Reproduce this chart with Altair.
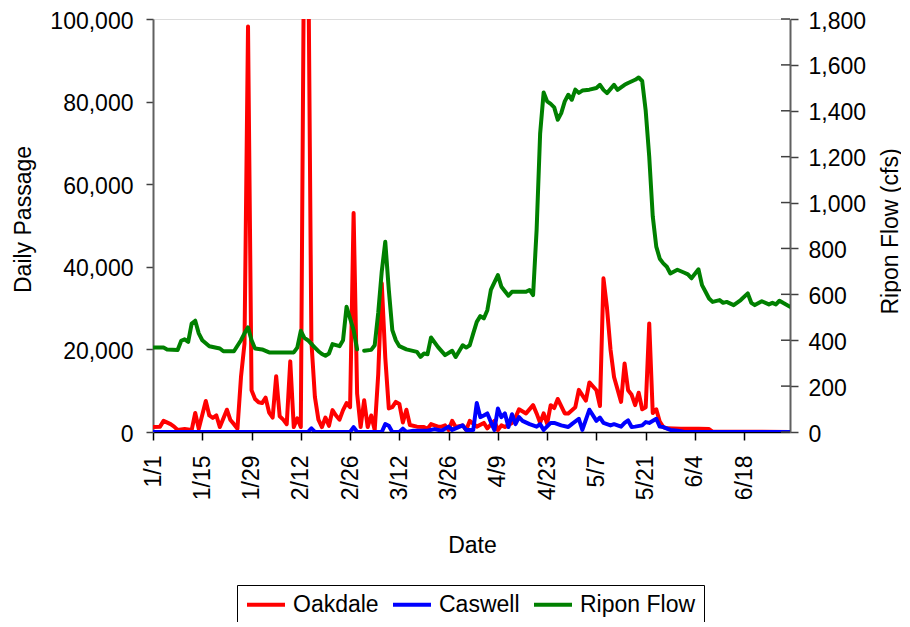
import altair as alt
import pandas as pd

series_names = ["Oakdale", "Caswell", "Ripon Flow"]
series_colors = ["#FF0000", "#0000FF", "#008000"]

tick_days = [0, 14, 28, 42, 56, 70, 84, 98, 112, 126, 140, 154, 168]
tick_labels = ["1/1", "1/15", "1/29", "2/12", "2/26", "3/12", "3/26",
               "4/9", "4/23", "5/7", "5/21", "6/4", "6/18"]
left_ticks = [0, 20000, 40000, 60000, 80000, 100000]
right_ticks = [0, 200, 400, 600, 800, 1000, 1200, 1400, 1600, 1800]

# Oakdale daily passage (day offset from 1/1)
oak_days = [0, 2, 3, 5, 6, 7, 9, 11, 12, 13, 15, 16, 17, 18, 19, 21, 22, 23, 24, 25,
            26, 27, 28, 29, 30, 31, 32, 33, 34, 35, 36, 37, 38, 39, 40, 41, 42, 43, 44, 45,
            46, 47, 48, 49, 50, 51, 52, 53, 54, 55, 56, 57, 58, 59, 60, 61, 62, 63, 64, 65,
            66, 67, 68, 69, 70, 71, 72, 73, 75, 77, 78, 79, 81, 82, 83, 84, 85, 86, 88, 89,
            90, 91, 92, 94, 95, 97, 98, 99, 100, 102, 103, 104, 106, 108, 109, 110, 111, 112, 113, 114,
            115, 117, 118, 120, 121, 123, 124, 126, 127, 128, 129, 130, 131, 133, 134, 135, 136, 137, 138, 139,
            140, 141, 142, 143, 144, 145, 146, 150, 155, 158, 159, 181]
oak_vals = [1200, 1300, 2700, 1900, 1300, 500, 700, 500, 4600, 800, 7500, 4000, 3400, 4000, 1200, 5400, 2900, 1900, 800, 13300,
            21400, 98200, 10100, 8000, 7200, 7000, 8300, 4700, 3500, 13500, 3800, 3000, 1900, 17100, 1200, 3300, 1200, 130000, 130000, 22000,
            8500, 3000, 1200, 3500, 1500, 5300, 4000, 3000, 5300, 7000, 6000, 53000, 9300, 1200, 7700, 1200, 4000, 500, 14000, 36000,
            18000, 5700, 6000, 7300, 6800, 2300, 5400, 1700, 1300, 1200, 800, 1900, 1300, 1300, 1600, 500, 2700, 1200, 1600, 500,
            2700, 2000, 1300, 2200, 900, 2700, 500, 1600, 1200, 2200, 3500, 5500, 4500, 6500, 4500, 2200, 4500, 2000, 6500, 5800,
            8000, 4500, 4500, 6000, 10200, 7600, 12000, 10100, 6300, 37200, 30000, 20000, 13300, 7300, 16600, 10100, 9000, 6500, 9500, 5500,
            6000, 26300, 4600, 5500, 2500, 1200, 900, 800, 800, 700, 100, 0]

# Caswell daily passage
cas_days = [0, 44, 45, 46, 56, 57, 58, 65, 66, 67, 68, 70, 71, 72, 74, 78, 80, 82, 84, 85,
            88, 89, 91, 92, 93, 94, 95, 96, 97, 98, 99, 100, 101, 102, 103, 104, 105, 107, 109, 110,
            111, 113, 114, 116, 118, 119, 121, 122, 124, 126, 127, 128, 130, 131, 133, 134, 135, 136, 137, 139,
            140, 141, 143, 144, 145, 147, 149, 151, 181]
cas_vals = [0, 0, 900, 0, 0, 1200, 0, 0, 1900, 1500, 0, 0, 800, 0, 300, 300, 700, 300, 1300, 500,
            1600, 500, 500, 7000, 3600, 4000, 4500, 2400, 500, 5700, 3600, 4500, 1200, 4300, 1900, 3600, 2700, 1900, 1300, 1900,
            500, 2200, 2200, 1600, 1200, 1900, 3200, 500, 5400, 2700, 3500, 2200, 1600, 1900, 1300, 2200, 2800, 1200, 1300, 1600,
            2400, 2200, 3200, 1300, 1200, 500, 300, 0, 0]

# Ripon flow (cfs); None = missing day
rip_days = [0, 3, 4, 7, 8, 9, 10, 11, 12, 13, 14, 16, 19, 20, 23, 25, 26, 27, 28, 29,
            31, 33, 40, 41, 42, 43, 44, 46, 47, 48, 49, 50, 51, 53, 54, 55, 57, 58, 59, 60,
            62, 63, 64, 65, 66, 67, 68, 69, 70, 72, 75, 76, 77, 78, 79, 81, 83, 85, 86, 88,
            89, 90, 91, 92, 93, 94, 95, 96, 98, 99, 101, 102, 106, 107, 108, 109, 110, 111, 112, 113,
            114, 115, 116, 117, 118, 119, 120, 121, 122, 124, 126, 127, 128, 129, 131, 132, 134, 135, 137, 138,
            139, 140, 141, 142, 143, 144, 145, 146, 147, 149, 151, 152, 153, 155, 156, 157, 158, 159, 161, 162,
            163, 165, 167, 169, 170, 171, 173, 175, 176, 177, 178, 179, 181]
rip_vals = [368, 368, 360, 357, 397, 404, 393, 473, 485, 430, 400, 374, 364, 352, 352, 400, 430, 456, 400, 364,
            360, 347, 347, 368, 441, 410, 400, 368, 352, 340, 332, 342, 383, 374, 400, 546, 444, 360, None, 354,
            358, 378, 520, 700, 829, 620, 444, 400, 374, 360, 349, 327, 342, 339, 412, 370, 335, 354, 327, 378,
            368, 378, 430, 480, 505, 495, 531, 619, 684, 633, 594, 611, 611, 619, 597, 880, 1300, 1480, 1441, 1430,
            1415, 1361, 1390, 1441, 1470, 1448, 1492, 1478, 1488, 1492, 1499, 1513, 1491, 1477, 1513, 1491, 1513, 1521, 1535, 1545,
            1530, 1400, 1200, 940, 808, 755, 735, 720, 691, 707, 694, 687, 670, 709, 640, 611, 582, 567, 575, 563,
            567, 553, 575, 604, 563, 553, 570, 556, 563, 556, 572, 563, 546]


def frame(days, vals, name):
    rows = []
    seg = 0
    for d, v in zip(days, vals):
        if v is None:
            seg += 1
            continue
        rows.append({"day": d, "value": v, "series": name, "seg": seg})
    return pd.DataFrame(rows)


oak_df = frame(oak_days, oak_vals, "Oakdale")
cas_df = frame(cas_days, cas_vals, "Caswell")
rip_df = frame(rip_days, rip_vals, "Ripon Flow")

W, H = 637, 413
FONT = "Liberation Sans"
FS = 23

label_expr = "[" + ",".join("'" + t + "'" for t in tick_labels) + "][round(datum.value/14)]"

x_enc = alt.X(
    "day:Q",
    scale=alt.Scale(domain=[0, 181], nice=False, zero=False),
    axis=alt.Axis(
        values=tick_days, labelExpr=label_expr, title="Date",
        labelAngle=270, labelAlign="right", labelBaseline="middle",
        labelPadding=15, tickSize=8, tickColor="#000000", domainColor="#000000",
        domainWidth=1.5, tickWidth=1.5, labelFontSize=FS, labelFont=FONT, labelColor="#000000",
        titleFontSize=FS, titleFont=FONT, titleFontWeight="normal", titleColor="#000000",
        titleX=319, titleY=113, titleBaseline="middle", titleAlign="center",
        grid=False, labelOverlap=False, labelFlush=False,
    ),
)

color_enc = alt.Color(
    "series:N",
    scale=alt.Scale(domain=series_names, range=series_colors),
    legend=alt.Legend(
        orient="none", legendX=84, legendY=566, direction="horizontal", title=None,
        symbolType="M-1,0H3", symbolStrokeWidth=4, symbolSize=361,
        labelFontSize=FS, labelFont=FONT, labelColor="#000000",
        strokeColor="#000000", fillColor="#ffffff", padding=8,
        columnPadding=6, labelOffset=25,
    ),
)

y_left = alt.Y(
    "value:Q",
    scale=alt.Scale(domain=[0, 100000], nice=False),
    axis=alt.Axis(
        values=left_ticks, format=",.0f", title="Daily Passage", orient="left",
        tickSize=7, tickColor="#404040", tickWidth=1.5, domainColor="#606060", domainWidth=2,
        labelPadding=13, labelOffset=2, labelFontSize=FS, labelFont=FONT, labelColor="#000000",
        titleFontSize=FS, titleFont=FONT, titleFontWeight="normal", titleColor="#000000",
        titleAngle=270, titleX=-130, titleY=200, titleBaseline="middle", titleAlign="center",
        grid=False,
    ),
)

y_right = alt.Y(
    "value:Q",
    scale=alt.Scale(domain=[0, 1800], nice=False),
    axis=alt.Axis(
        values=right_ticks, format=",.0f", title="Ripon Flow (cfs)", orient="right",
        tickSize=8, tickColor="#404040", tickWidth=1.5, domainColor="#606060", domainWidth=2,
        labelPadding=10, labelOffset=2, labelFontSize=FS, labelFont=FONT, labelColor="#000000",
        titleFontSize=FS, titleFont=FONT, titleFontWeight="normal", titleColor="#000000",
        titleAngle=270, titleX=100, titleY=212, titleBaseline="middle", titleAlign="center",
        grid=False,
    ),
)

line_kw = dict(strokeWidth=4, clip=True, strokeJoin="round", strokeCap="round")

oak = alt.Chart(oak_df).mark_line(**line_kw).encode(x=x_enc, y=y_left, color=color_enc)
cas = alt.Chart(cas_df).mark_line(**line_kw).encode(x=x_enc, y=y_left, color=color_enc)
rip = alt.Chart(rip_df).mark_line(**line_kw).encode(
    x=x_enc, y=y_right, color=color_enc, detail="seg:N")

rticks = alt.Chart(pd.DataFrame({"tv": right_ticks})).mark_rule(
    color="#404040", strokeWidth=1.5
).encode(
    y=alt.Y("tv:Q", scale=alt.Scale(domain=[0, 1800], nice=False), axis=None),
    x=alt.value(W - 9),
    x2=alt.value(W),
)

left = alt.layer(oak, cas)

chart = (
    alt.layer(left, rip, rticks)
    .resolve_scale(y="independent")
    .properties(
        width=W, height=H,
        padding={"left": 145, "top": 11, "right": 111, "bottom": 190},
        autosize=alt.AutoSizeParams(type="none"),
        background="#ffffff",
    )
    .configure_view(stroke="#a8a8a8", strokeWidth=2)
    .configure(font=FONT)
)

chart.save("out.html", embed_options={"renderer": "svg", "actions": False})
